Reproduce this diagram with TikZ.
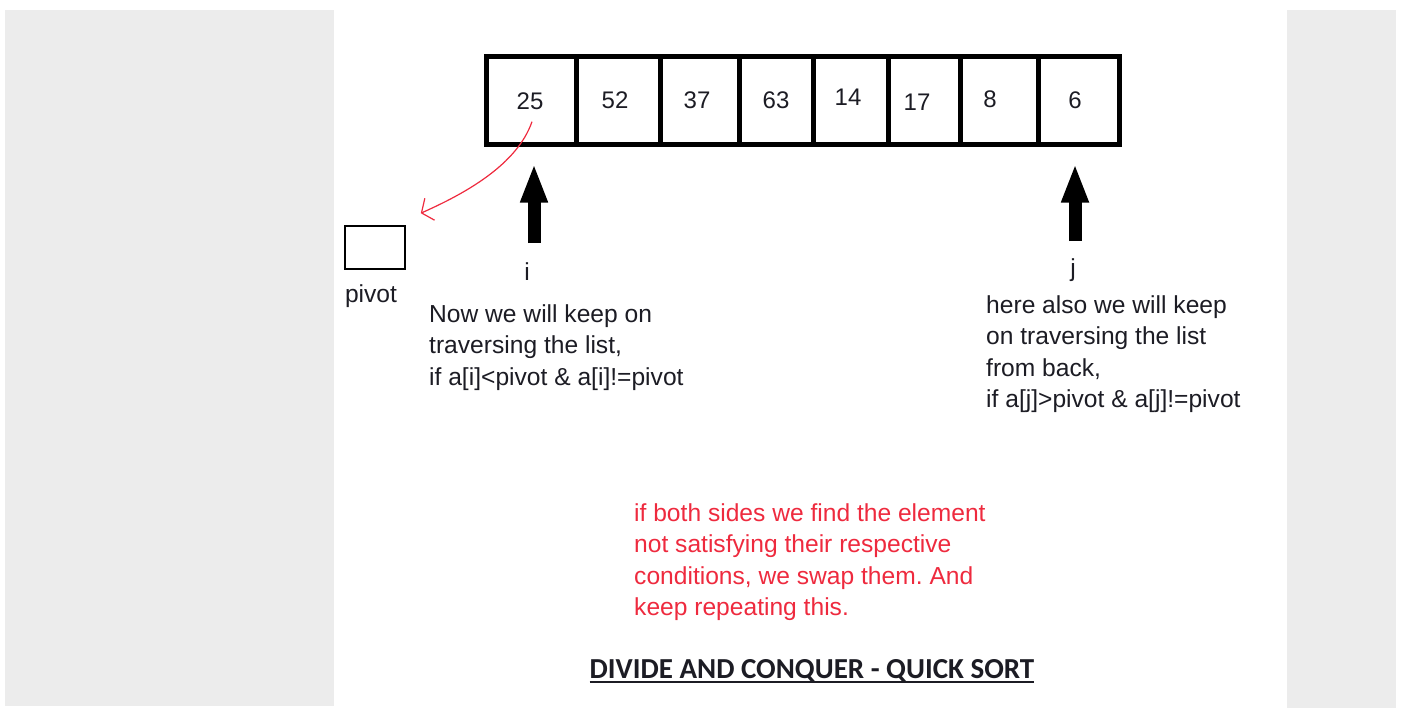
\documentclass[tikz,border=0pt]{standalone}
\usepackage{fontspec}
\setmainfont{Liberation Sans}
\newfontfamily\titlefont{Carlito}
\usetikzlibrary{arrows.meta}
\definecolor{panelgray}{HTML}{ECECEC}
\definecolor{notered}{HTML}{EE2A3E}
\definecolor{ink}{HTML}{1C1C24}
\frenchspacing

\tikzset{
  cell/.style={draw, line width=5pt, minimum height=87pt, inner sep=0pt},
  val/.style={inner sep=0pt, text=ink, font=\fontsize{24}{29}\selectfont},
  note/.style={inner sep=0pt, align=left, text=ink, font=\fontsize{24.6}{31.6}\selectfont},
  ptr/.style={line width=13pt, -{Triangle[length=39pt,width=25pt]}, shorten >=17pt},
  swapline/.style={notered, line width=1.2pt, -{Straight Barb[length=9pt,width=24pt]}}
}

\begin{document}
\begin{tikzpicture}[x=1pt,y=-1pt]
  \useasboundingbox (0,0) rectangle (1401,709);
  \fill[panelgray] (5,10) rectangle (334,706);
  \fill[panelgray] (1287,10) rectangle (1396,708);
  \foreach \l/\r [count=\k] in {486/576,576/660,660/739,739/813,813/888,888/960,960/1038,1038/1119}
    \node[cell, minimum width=\r pt-\l pt] (c\k) at ({(\l+\r)/2},100.5) {};
  \foreach \v/\x/\y [count=\k] in {25/530/101,52/615/100,37/697/100,63/776/100,14/848/97,17/917/102,8/990/99,6/1075/100}
    \node[val] (n\k) at (\x,\y) {\v};

  \node[draw, line width=1.6pt, minimum width=60pt, minimum height=43pt, inner sep=0pt] (pivot) at (375,247.5) {};
  \node[note] (pivotlbl) at (371,296) {pivot};
  \draw[swapline] ([xshift=2pt,yshift=-12pt]n1.south) .. controls +(-15,43) and +(45,-20) .. ([xshift=15pt,yshift=12pt]pivot.north east);

  \coordinate (ibase) at (534,243);
  \coordinate (jbase) at (1075,241);
  \draw[ptr] (ibase) -- (ibase |- c1.south);
  \draw[ptr] (jbase) -- (jbase |- c8.south);
  \node[note] (ilbl) at (527,272) {i};
  \node[note] (jlbl) at (1073,270) {j};

  \node[note, anchor=north west] (leftnote) at (429,304) {Now we will keep on\\traversing the list,\\if a[i]<pivot \& a[i]!=pivot};
  \node[note, anchor=north west] (rightnote) at (986,295) {here also we will keep\\on traversing the list\\from back,\\if a[j]>pivot \& a[j]!=pivot};
  \node[note, anchor=north west, text=notered] (swapnote) at (634,503) {if both sides we find the element\\not satisfying their respective\\conditions, we swap them. And\\keep repeating this.};

  \node[inner sep=0pt, anchor=base, text=ink, font=\titlefont\bfseries\fontsize{29}{34}\selectfont] (title) at (812,678) {DIVIDE AND CONQUER - QUICK SORT};
  \draw[ink, line width=2.4pt] ([yshift=-4pt]title.base west) -- ([yshift=-4pt]title.base east);
\end{tikzpicture}
\end{document}
